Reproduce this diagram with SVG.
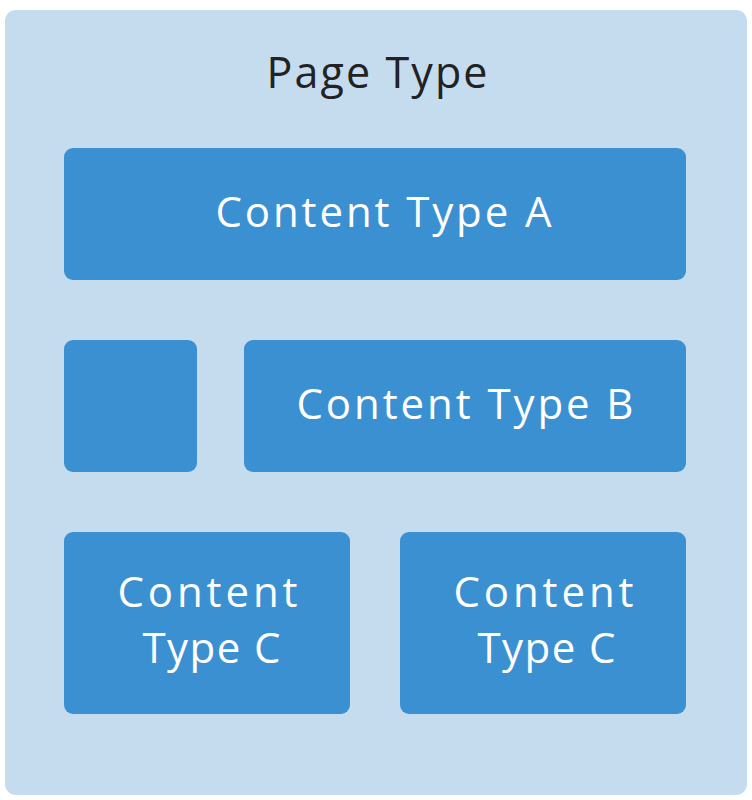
<svg xmlns="http://www.w3.org/2000/svg" width="752" height="800" viewBox="0 0 752 800">
<style>
.outer{fill:#c5dcef;}
.box{fill:#3b90d2;}
.t{font-family:"Open Sans","Noto Sans",sans-serif;font-size:42px;fill:#ffffff;text-anchor:middle;}
.title{font-family:"Open Sans","Noto Sans",sans-serif;font-size:43px;fill:#222222;text-anchor:middle;}
</style>
<rect width="752" height="800" fill="#ffffff"/>
<g id="page">
<rect class="outer" x="5" y="10" width="742" height="785" rx="11"/>
<text class="title" x="377" y="88" textLength="221" lengthAdjust="spacing">Page Type</text>
</g>
<g id="contentA">
<rect class="box" x="64" y="148" width="622" height="132" rx="9"/>
<text class="t" x="383.5" y="227" textLength="336" lengthAdjust="spacing">Content Type A</text>
</g>
<g id="blank">
<rect class="box" x="64" y="340" width="133" height="132" rx="9"/>
</g>
<g id="contentB">
<rect class="box" x="244" y="340" width="442" height="132" rx="9"/>
<text class="t" x="465" y="419" textLength="337" lengthAdjust="spacing">Content Type B</text>
</g>
<g id="contentC1">
<rect class="box" x="64" y="532" width="286" height="182" rx="9"/>
<text class="t" x="207.5" y="607" textLength="180" lengthAdjust="spacing">Content</text>
<text class="t" x="211.5" y="663" textLength="138" lengthAdjust="spacing">Type C</text>
</g>
<g id="contentC2">
<rect class="box" x="400" y="532" width="286" height="182" rx="9"/>
<text class="t" x="543.5" y="607" textLength="180" lengthAdjust="spacing">Content</text>
<text class="t" x="546.5" y="663" textLength="138" lengthAdjust="spacing">Type C</text>
</g>
<g id="connectors"></g>
</svg>
